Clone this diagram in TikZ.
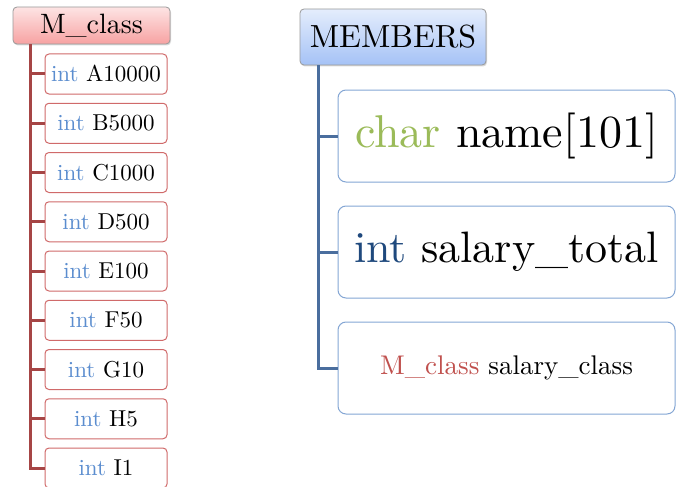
\documentclass[tikz,border=0pt]{standalone}
\usepackage{fontspec}
\setmainfont{lmroman10-regular.otf}
\usepackage{tikz}
\usetikzlibrary{shadows}
\definecolor{redline}{HTML}{A64545}
\definecolor{blueline}{HTML}{4A6E9E}
\definecolor{redbox}{HTML}{D06A6A}
\definecolor{bluebox}{HTML}{84A6D4}
\definecolor{pinktop}{HTML}{FDE4E4}
\definecolor{pinkbot}{HTML}{F7A2A2}
\definecolor{bluetop}{HTML}{E4EDFC}
\definecolor{bluebot}{HTML}{A5C2F6}
\definecolor{intlight}{HTML}{5B8DCF}
\definecolor{intdark}{HTML}{1F497D}
\definecolor{chargreen}{HTML}{9BBB59}
\definecolor{classred}{HTML}{C0504D}
\tikzstyle{hdr}=[rounded corners=4pt,draw=black!40,line width=0.8pt,inner sep=0pt,
  drop shadow={opacity=0.3,shadow xshift=1pt,shadow yshift=-1.5pt}]
\tikzstyle{rhdr}=[hdr,top color=pinktop,bottom color=pinkbot,minimum width=157,minimum height=37,
  font=\fontsize{28}{32}\selectfont]
\tikzstyle{bhdr}=[hdr,top color=bluetop,bottom color=bluebot,minimum width=186,minimum height=56,
  font=\fontsize{32}{36}\selectfont]
\tikzstyle{rbox}=[rounded corners=4pt,draw=redbox,line width=1pt,fill=white,inner sep=0pt,
  minimum width=122,minimum height=40,font=\fontsize{23}{26}\selectfont]
\tikzstyle{bbox}=[rounded corners=8pt,draw=bluebox,line width=1pt,fill=white,inner sep=0pt,
  minimum width=337,minimum height=92]
\tikzstyle{rtrunk}=[redline,line width=3pt]
\tikzstyle{btrunk}=[blueline,line width=3pt]
\newcommand{\rint}{\textcolor{intlight}{int}}

\begin{document}
\begin{tikzpicture}[x=1pt,y=-1pt]
\useasboundingbox (0,0) rectangle (680,487);
\coordinate (rt) at (30,0);
\coordinate (bt) at (318,0);

% left tree
\node[rhdr] (mc) at (91.5,25.5) {M\_class};
\node[rbox] (a) at (106,74) {\rint{} A10000};
\node[rbox] (b) at (106,123.25) {\rint{} B5000};
\node[rbox] (c) at (106,172.5) {\rint{} C1000};
\node[rbox] (d) at (106,221.75) {\rint{} D500};
\node[rbox] (e) at (106,271) {\rint{} E100};
\node[rbox] (f) at (106,320.25) {\rint{} F50};
\node[rbox] (g) at (106,369.5) {\rint{} G10};
\node[rbox] (h) at (106,418.75) {\rint{} H5};
\node[rbox] (i) at (106,468) {\rint{} I1};

\draw[rtrunk] (mc.south -| rt) |- (i.west);
\draw[rtrunk] (a.west) -- (a.west -| rt);
\draw[rtrunk] (b.west) -- (b.west -| rt);
\draw[rtrunk] (c.west) -- (c.west -| rt);
\draw[rtrunk] (d.west) -- (d.west -| rt);
\draw[rtrunk] (e.west) -- (e.west -| rt);
\draw[rtrunk] (f.west) -- (f.west -| rt);
\draw[rtrunk] (g.west) -- (g.west -| rt);
\draw[rtrunk] (h.west) -- (h.west -| rt);

% right tree
\node[bhdr] (mem) at (393,37) {MEMBERS};
\node[bbox,font=\fontsize{46}{50}\selectfont] (nm) at (506.5,136)
  {\textcolor{chargreen}{char} name[101]};
\node[bbox,font=\fontsize{44}{50}\selectfont] (tot) at (506.5,252)
  {\textcolor{intdark}{int} salary\_total};
\node[bbox,font=\fontsize{27}{30}\selectfont] (cls) at (506.5,368)
  {\textcolor{classred}{M\_class} salary\_class};

\draw[btrunk] (mem.south -| bt) |- (cls.west);
\draw[btrunk] (nm.west) -- (nm.west -| bt);
\draw[btrunk] (tot.west) -- (tot.west -| bt);

\end{tikzpicture}
\end{document}
